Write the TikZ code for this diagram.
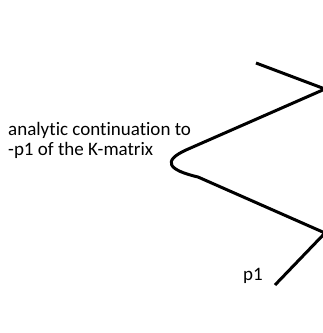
\documentclass[tikz,border=0pt]{standalone}
\usepackage{fontspec}
\setmainfont{Carlito}[Ligatures=NoCommon]
\usetikzlibrary{positioning,calc}

\begin{document}
\begin{tikzpicture}[
    x=1pt, y=-1pt,
    font=\fontsize{19}{20}\selectfont,
    pathline/.style={draw=black, line width=3pt, line join=round},
    labeltext/.style={anchor=base west, inner sep=0pt, align=left}
]
\useasboundingbox (0,0) rectangle (323,333);

% 路径上的点
\coordinate (top_start) at (256,63);
\coordinate (top_turn)  at (325,89);
\coordinate (bend_in)   at (186,150);
\coordinate (bend_out)  at (198,177);
\coordinate (low_turn)  at (325,233);
\coordinate (p1_end)    at (275,285);

% 解析延拓的曲线
\draw[pathline] (top_start) -- (top_turn) -- (bend_in)
    .. controls (162,161) and (168,170) .. (bend_out)
    -- (low_turn) -- (p1_end);

% 文字
\node[labeltext] (contlabel) at (8,155) {analytic continuation to\\-p1 of the K-matrix};
\node[labeltext] (p1label) at (243,280) {p1};

\end{tikzpicture}
\end{document}
